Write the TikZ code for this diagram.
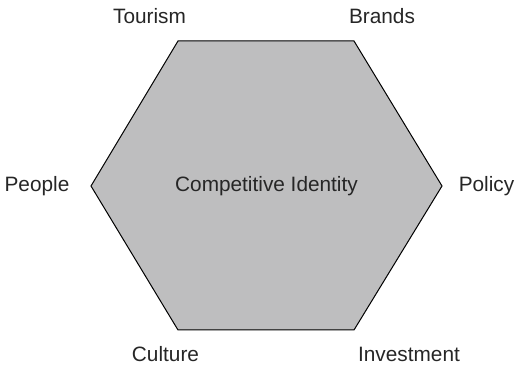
\documentclass[tikz,border=0pt]{standalone}
\usepackage{fontspec}
\setmainfont{Liberation Sans}
\usetikzlibrary{positioning}

\definecolor{hexgray}{RGB}{190,190,191}

\begin{document}
\begin{tikzpicture}[x=0.5pt, y=-0.5pt, font=\fontsize{10.4}{12}\selectfont,
	label/.style={text=black!85, inner sep=0pt}]
	\useasboundingbox (0,0) rectangle (515,367);
	\coordinate (tl) at (178,41);
	\coordinate (tr) at (354,41);
	\coordinate (r) at (442,186);
	\coordinate (br) at (354,330);
	\coordinate (bl) at (178,330);
	\coordinate (l) at (91,186);
	\draw[fill=hexgray, line width=0.5pt] (tl) -- (tr) -- (r) -- (br) -- (bl) -- (l) -- cycle;
	\node[label] (ci) at (266.5,186) {Competitive Identity};
	\node[label] (tourism) at (149.5,16) {Tourism};
	\node[label] (brands) at (382,16) {Brands};
	\node[label] (people) at (37,186) {People};
	\node[label] (policy) at (486.5,186) {Policy};
	\node[label] (culture) at (165.5,354) {Culture};
	\node[label] (investment) at (409,354) {Investment};
\end{tikzpicture}
\end{document}
